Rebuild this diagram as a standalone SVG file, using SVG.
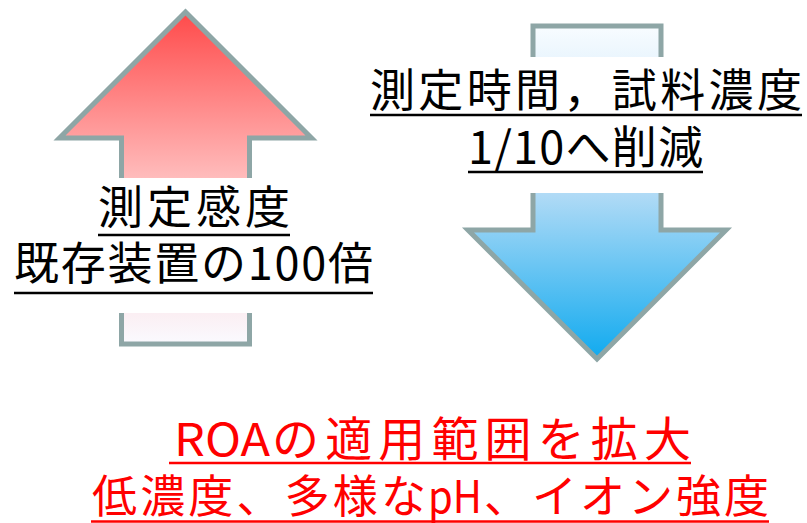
<svg xmlns="http://www.w3.org/2000/svg" width="807" height="523" viewBox="0 0 807 523">
<defs>
<linearGradient id="gUp" x1="0" y1="0" x2="0" y2="1">
<stop offset="0" stop-color="#ff4a4a"/>
<stop offset="0.5" stop-color="#ffbcbc"/>
<stop offset="1" stop-color="#fafaff"/>
</linearGradient>
<linearGradient id="gDown" x1="0" y1="0" x2="0" y2="1">
<stop offset="0" stop-color="#f8fcff"/>
<stop offset="0.5" stop-color="#b2dbf6"/>
<stop offset="1" stop-color="#10aaef"/>
</linearGradient>
<style>
.arrow{stroke:#8ea6a6;stroke-width:5;stroke-linejoin:miter;stroke-miterlimit:10}
.t{font-family:"Noto Sans CJK JP","Noto Sans",sans-serif;font-size:45px}
.blk{fill:#000}
.red{fill:#ff0000}
.ulb{stroke:#000;stroke-width:2.5}
.ulr{stroke:#ff0000;stroke-width:2.5}
</style>
</defs>
<rect width="807" height="523" fill="#fff"/>
<g id="up-arrow">
<path class="arrow" fill="url(#gUp)" d="M185.5,12 L311.5,138 L249.5,138 L249.5,344 L121.5,344 L121.5,138 L59.5,138 Z"/>
<rect x="110" y="178" width="152" height="135" fill="#fff"/>
</g>
<g id="down-arrow">
<path class="arrow" fill="url(#gDown)" d="M533,26 L661,26 L661,230 L726,230 L597,359 L468,230 L533,230 Z"/>
<rect x="520" y="57" width="155" height="136" fill="#fff"/>
</g>
<g id="up-label">
<text class="t blk" x="98" y="224" textLength="192" lengthAdjust="spacing">測定感度</text>
<line class="ulb" x1="98" y1="235" x2="290" y2="235"/>
<text class="t blk" x="14" y="280" textLength="359" lengthAdjust="spacing">既存装置の100倍</text>
<line class="ulb" x1="14" y1="293" x2="373" y2="293"/>
</g>
<g id="down-label">
<text class="t blk" x="370" y="107" textLength="432" lengthAdjust="spacing">測定時間，試料濃度</text>
<line class="ulb" x1="370" y1="115" x2="802" y2="115"/>
<text class="t blk" x="468" y="164" textLength="235" lengthAdjust="spacing">1/10へ削減</text>
<line class="ulb" x1="468" y1="172" x2="703" y2="172"/>
</g>
<g id="result-label">
<text class="t red" y="456"><tspan x="174" textLength="96" lengthAdjust="spacingAndGlyphs">ROA</tspan><tspan x="272" font-size="47" textLength="419" lengthAdjust="spacing">の適用範囲を拡大</tspan></text>
<line class="ulr" x1="169" y1="463" x2="691" y2="463"/>
<text class="t red" y="513"><tspan x="92" textLength="334" lengthAdjust="spacing">低濃度、多様な</tspan><tspan x="428" textLength="54" lengthAdjust="spacingAndGlyphs">pH</tspan><tspan x="484" textLength="285" lengthAdjust="spacing">、イオン強度</tspan></text>
<line class="ulr" x1="91" y1="521.5" x2="769" y2="521.5"/>
</g>
</svg>
